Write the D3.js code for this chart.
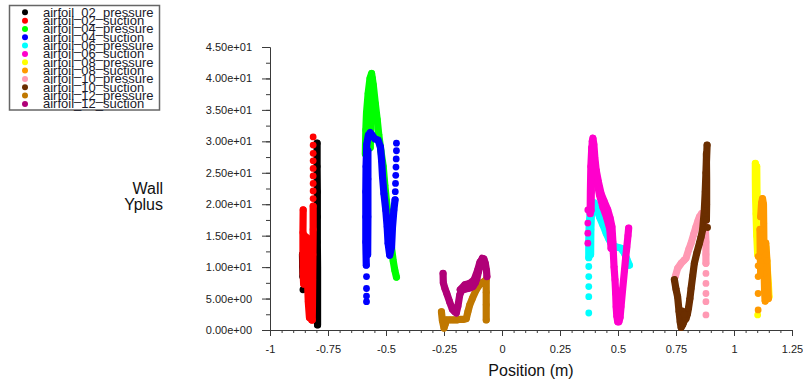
<!DOCTYPE html>
<html><head><meta charset="utf-8">
<script src="https://cdn.jsdelivr.net/npm/d3@7"></script>
<style>body{margin:0;background:#fff}svg{display:block}</style>
</head><body><svg id="c" width="803" height="385"></svg>
<script>
const seriesNames = ["airfoil_02_pressure","airfoil_02_suction","airfoil_04_pressure","airfoil_04_suction",
  "airfoil_06_pressure","airfoil_06_suction","airfoil_08_pressure","airfoil_08_suction",
  "airfoil_10_pressure","airfoil_10_suction","airfoil_12_pressure","airfoil_12_suction"];
const seriesColors = ["#000000","#ff0000","#00ff00","#0000ff","#00ffff","#ff00cc",
  "#ffff00","#ff9900","#ff99b3","#6b2e00","#c07800","#b00078"];
const xTickValues = [-1,-0.75,-0.5,-0.25,0,0.25,0.5,0.75,1,1.25];
const xTickLabels = ["-1","-0.75","-0.5","-0.25","0","0.25","0.5","0.75","1","1.25"];
const yTickValues = [0,5,10,15,20,25,30,35,40,45];
const yTickLabels = ["0.00e+00","5.00e+00","1.00e+01","1.50e+01","2.00e+01","2.50e+01","3.00e+01","3.50e+01","4.00e+01","4.50e+01"];
const xLabel = "Position (m)";
const yLabelLines = ["Wall","Yplus"];

// each series: list of traces of [position, yplus]; one-point traces are lone markers
const airfoil02Pressure = [
  [[-0.797,29.7],[-0.797,26],[-0.796,22],[-0.796,18],[-0.796,14],[-0.795,10],[-0.795,6],[-0.795,3],[-0.795,0.8]],
  [[-0.860,12],[-0.859,10.1],[-0.858,8.5]],
  [[-0.858,6.4]]
];
const airfoil02Suction = [
  [[-0.814,30.7]],[[-0.814,29.4]],[[-0.814,28.1]],[[-0.814,26.9]],[[-0.814,25.7]],[[-0.814,24.5]],
  [[-0.814,23.3]],[[-0.814,22.1]],[[-0.814,20.9]],
  [[-0.814,19.7],[-0.814,16],[-0.815,12],[-0.816,8],[-0.817,4],[-0.818,1.6]],
  [[-0.857,19.1],[-0.858,15.5],[-0.858,12],[-0.857,9],[-0.855,7.3]],
  [[-0.852,15.0],[-0.849,8.2],[-0.846,14.8],[-0.843,8.0],[-0.840,14.6],[-0.837,7.6],[-0.834,14.4],[-0.831,7.2],
   [-0.828,14.2],[-0.825,7.0],[-0.822,13.8],[-0.819,6.5]],
  [[-0.838,7.5],[-0.835,4.5],[-0.830,2.0]],
  [[-0.826,6.5],[-0.823,3.0],[-0.820,1.6]]
];
const airfoil04Pressure = [
  [[-0.589,28],[-0.587,31.8],[-0.584,34.5],[-0.577,37.6],[-0.569,40.0],[-0.562,40.8],[-0.555,39],
   [-0.546,36],[-0.538,33.5],[-0.531,31],[-0.522,28.5],[-0.512,26],[-0.505,23],[-0.498,20.5],
   [-0.491,18],[-0.484,15.5],[-0.476,13],[-0.469,11],[-0.462,9.5],[-0.455,8.4]],
  [[-0.560,40],[-0.562,36],[-0.565,32],[-0.568,29]]
];
const airfoil04Suction = [
  [[-0.584,4.5]],[[-0.584,5.4]],[[-0.584,6.6]],[[-0.584,8.5]],
  [[-0.585,10.3],[-0.587,14],[-0.587,18],[-0.587,22],[-0.586,26],[-0.583,29.5],[-0.576,31.0],[-0.568,31.4],
   [-0.560,31.0],[-0.548,30.4],[-0.534,30.2],[-0.524,29.1],[-0.519,27.0],[-0.515,24.4],[-0.509,21.7],
   [-0.501,19.1],[-0.495,16.4],[-0.491,13.8],[-0.484,11.9],[-0.476,13.2],[-0.472,16.4],[-0.466,19.1],[-0.461,20.7]],
  [[-0.579,12],[-0.578,18],[-0.578,24],[-0.578,28.5]],
  [[-0.460,22.0]],[[-0.459,23.3]],[[-0.458,24.6]],[[-0.457,25.9]],[[-0.456,27.2]],[[-0.455,28.5]],[[-0.455,29.7]]
];
const airfoil06Pressure = [
  [[0.374,2.7]],[[0.374,5.3]],[[0.374,6.9]],[[0.374,8.5]],[[0.374,10.1]],
  [[0.374,11.5],[0.374,14],[0.376,17],[0.382,19.3],[0.390,20.1],[0.398,20.2],[0.408,19.2],[0.420,18.0],
   [0.435,16.7],[0.449,15.4],[0.460,14.5],[0.470,13.8],[0.482,13.4],[0.492,13.2],[0.503,13.1],[0.513,13.0],
   [0.521,12.6],[0.528,12.2],[0.538,11.3],[0.549,10.3]],
  [[0.382,12],[0.383,16],[0.386,19]]
];
const airfoil06Suction = [
  [[0.370,19.1]],[[0.370,17.0]],[[0.370,15.4]],[[0.370,13.8]],
  [[0.380,18.5],[0.381,22],[0.383,26],[0.387,29]],
  [[0.384,19],[0.385,22],[0.386,25],[0.387,28],[0.389,30],[0.392,30.5],[0.396,29.5],[0.400,27.5],[0.406,25.4],
   [0.416,23.5],[0.427,21.7],[0.440,20.5],[0.456,19.1],[0.466,17.8],[0.474,16.4],[0.478,14],[0.480,12.2],
   [0.483,10],[0.487,8.0],[0.490,5.8],[0.492,3.7],[0.495,2.2],[0.499,1.3],[0.504,1.3],[0.509,2.0],[0.513,3.7],
   [0.520,6.5],[0.528,9.5],[0.533,11.5],[0.538,13.2],[0.543,15],[0.546,16.2]],
  [[0.398,27],[0.410,23.5],[0.420,21.5],[0.435,19.5],[0.450,18],[0.465,16],[0.470,13]]
];
const airfoil08Pressure = [
  [[1.092,26.5],[1.092,24],[1.093,21],[1.095,18.5],[1.098,15],[1.102,12]],
  [[1.098,26],[1.099,22],[1.100,18]],
  [[1.137,13.2],[1.141,11],[1.144,9.5],[1.148,7.3],[1.151,5.3]],
  [[1.102,2.4]]
];
const airfoil08Suction = [
  [[1.104,11.7]],[[1.104,10.2]],[[1.104,8.5]],[[1.104,5.8]],[[1.104,3.2]],
  [[1.115,18],[1.119,20.2],[1.123,20.9],[1.127,20],[1.128,17],[1.129,13],[1.130,9],[1.132,6],[1.134,4.6]],
  [[1.112,16],[1.113,12.5],[1.115,9]],
  [[1.137,13.8],[1.142,11],[1.145,8],[1.148,5]]
];
const airfoil10Pressure = [
  [[0.747,8.5],[0.757,9.8],[0.772,10.6],[0.785,11.1],[0.793,11.4],[0.805,12.8],[0.815,13.8],[0.826,15.2],
   [0.836,16.4],[0.845,17.4],[0.851,18.0],[0.860,18.5],[0.868,18.0],[0.876,16.5],[0.879,14],[0.879,12],[0.879,10.6]],
  [[0.879,9.0]],[[0.879,7.4]],[[0.879,5.8]],[[0.879,4.5]],[[0.879,2.4]]
];
const airfoil10Suction = [
  [[0.743,8.0],[0.750,6.5],[0.757,5.3],[0.763,3.0],[0.768,1.3],[0.772,0.4],[0.778,0.8],[0.786,1.5],[0.793,1.8],
   [0.799,2.5],[0.804,3.5],[0.810,5.0],[0.815,6.6],[0.822,8.6],[0.829,10.6],[0.840,12.3],[0.851,13.8],
   [0.858,14.8],[0.865,16],[0.872,19],[0.876,22],[0.879,25],[0.882,27.5],[0.884,29.4]],
  [[0.881,28],[0.882,24],[0.882,20],[0.881,17.5]],
  [[0.886,16.3]],
  [[0.776,3.0],[0.780,1.0],[0.785,2.5]]
];
const airfoil12Pressure = [
  [[-0.261,2.9],[-0.257,1.5],[-0.250,0.3],[-0.244,1.0],[-0.240,1.6],[-0.225,1.6],[-0.210,1.6],[-0.195,1.6],
   [-0.180,1.7],[-0.165,1.7],[-0.154,1.8],[-0.147,2.9],[-0.139,4.0],[-0.128,5.0],[-0.111,6.4],[-0.093,7.4],
   [-0.078,7.7],[-0.068,8.0],[-0.068,6],[-0.068,4],[-0.068,1.6]]
];
const airfoil12Suction = [
  [[-0.254,9.0],[-0.253,7.5],[-0.246,6.6],[-0.238,5.8],[-0.226,4.5],[-0.214,3.3],[-0.204,2.9],[-0.197,2.7],
   [-0.190,3.8],[-0.182,5.6],[-0.175,6.2],[-0.168,6.4],[-0.158,6.5],[-0.147,6.6],[-0.136,6.7],[-0.125,6.9],
   [-0.115,7.5],[-0.108,8.2],[-0.101,9.3],[-0.096,10.1],[-0.090,11.0],[-0.085,11.4],[-0.078,11.3],
   [-0.072,10.6],[-0.067,9.5],[-0.065,8.5]],
  [[-0.180,6.4],[-0.160,7.2],[-0.140,7.4],[-0.120,8.0],[-0.105,9.5],[-0.095,10.8]]
];
const seriesData = [airfoil02Pressure, airfoil02Suction, airfoil04Pressure, airfoil04Suction,
  airfoil06Pressure, airfoil06Suction, airfoil08Pressure, airfoil08Suction,
  airfoil10Pressure, airfoil10Suction, airfoil12Pressure, airfoil12Suction];

const FONT = "'Liberation Sans', Arial, sans-serif";
const svg = d3.select("#c");
const x = d3.scaleLinear().domain([-1, 1.25]).range([270, 792]);
const y = d3.scaleLinear().domain([0, 45]).range([330, 47]);

// axes
const xMinor = d3.range(0, 46).map(i => -1 + i * 0.05);
const yMinor = d3.range(0, 19).map(i => i * 2.5);
function styleAxis(g) {
  g.selectAll("path,line").attr("stroke", "#3a3a3a").attr("stroke-width", 1);
  g.selectAll("text").attr("fill", "#222").style("font-family", FONT).style("font-size", "11px");
}
svg.append("g").attr("transform", "translate(0,330)")
  .call(d3.axisBottom(x).tickValues(xMinor).tickSize(3).tickSizeOuter(0).tickFormat(""))
  .call(styleAxis);
svg.append("g").attr("transform", "translate(0,330)")
  .call(d3.axisBottom(x).tickValues(xTickValues).tickSize(6).tickSizeOuter(0).tickPadding(9)
    .tickFormat((d, i) => xTickLabels[i]))
  .call(styleAxis);
svg.append("g").attr("transform", "translate(270,0)")
  .call(d3.axisLeft(y).tickValues(yMinor).tickSize(4).tickSizeOuter(0).tickFormat(""))
  .call(styleAxis);
svg.append("g").attr("transform", "translate(270,0)")
  .call(d3.axisLeft(y).tickValues(yTickValues).tickSize(8).tickSizeOuter(0).tickPadding(10)
    .tickFormat((d, i) => yTickLabels[i]))
  .call(styleAxis);

// axis titles
svg.append("text").attr("x", 531).attr("y", 376).attr("text-anchor", "middle")
  .style("font-family", FONT).style("font-size", "16px").attr("fill", "#111").text(xLabel);
svg.append("text").attr("text-anchor", "end").style("font-family", FONT).style("font-size", "16px")
  .attr("fill", "#111")
  .selectAll("tspan").data(yLabelLines).join("tspan")
  .attr("x", 163).attr("y", (d, i) => 194 + i * 15.5).text(d => d);

// series
const R = 3.4;
const line = d3.line().x(d => x(d[0])).y(d => y(d[1]));
const sg = svg.append("g");
seriesData.forEach((traces, i) => {
  const g = sg.append("g");
  g.selectAll("path").data(traces.filter(t => t.length > 1)).join("path")
    .attr("d", line).attr("fill", "none").attr("stroke", seriesColors[i])
    .attr("stroke-width", 7.2).attr("stroke-linejoin", "round").attr("stroke-linecap", "round");
  g.selectAll("circle").data(traces.flat()).join("circle")
    .attr("cx", d => x(d[0])).attr("cy", d => y(d[1])).attr("r", R).attr("fill", seriesColors[i]);
});

// legend
const lg = svg.append("g");
lg.append("rect").attr("x", 9.5).attr("y", 5.5).attr("width", 150).attr("height", 104.5)
  .attr("fill", "#fff").attr("stroke", "#666").attr("stroke-width", 1.5);
const li = lg.selectAll("g.item").data(seriesNames).join("g").attr("class", "item")
  .attr("transform", (d, i) => `translate(0,${12.3 + i * 8.33})`);
li.append("circle").attr("cx", 25).attr("cy", 0).attr("r", 3).attr("fill", (d, i) => seriesColors[i]);
li.append("text").attr("x", 43).attr("y", 4.4).style("font-family", FONT).style("font-size", "13px")
  .attr("fill", "#1a1a2a").text(d => d);
</script>
</body></html>
